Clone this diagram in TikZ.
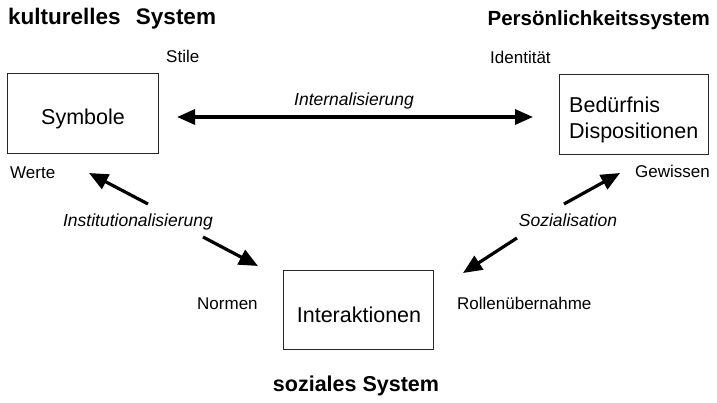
\documentclass[tikz,border=0pt]{standalone}
\usepackage{fontspec}
\setmainfont{Liberation Sans}
\usetikzlibrary{arrows.meta}
\begin{document}
\begin{tikzpicture}[x=1pt,y=-1pt,
  titlelbl/.style={font=\fontsize{20.5}{24}\selectfont\bfseries, inner sep=0pt},
  smalllbl/.style={font=\fontsize{17}{20}\selectfont, inner sep=0pt},
  arrowlbl/.style={font=\fontsize{17.5}{20}\selectfont\itshape, inner sep=0pt},
  boxtxt/.style={font=\fontsize{21.5}{26}\selectfont, inner sep=0pt},
  sysbox/.style={draw=black!85, line width=1pt, fill=none},
  bigarrow/.style={line width=3.2pt, -{Triangle[length=19pt,width=16pt]}},
  bigdarrow/.style={line width=3.2pt, {Triangle[length=18pt,width=15pt]}-{Triangle[length=18pt,width=15pt]}}]
\useasboundingbox (0,0) rectangle (717,403);
% boxes
\node[sysbox, minimum width=151pt, minimum height=80pt, anchor=north west] (symbox) at (7,73) {};
\node[sysbox, minimum width=149pt, minimum height=80pt, anchor=north west] (bedbox) at (559,74) {};
\node[sysbox, minimum width=150pt, minimum height=79pt, anchor=north west] (intbox) at (283,270) {};
% box texts
\node[boxtxt, anchor=base] (symtxt) at (83,125) {Symbole};
\node[boxtxt, anchor=base west] (bedtxt1) at (569,113) {Bedürfnis};
\node[boxtxt, anchor=base west] (bedtxt2) at (569,139) {Dispositionen};
\node[boxtxt, anchor=base] (inttxt) at (359,322) {Interaktionen};
% titles
\node[titlelbl, font=\fontsize{22.5}{26}\selectfont\bfseries, anchor=base west] (kult) at (8,25) {kulturelles\hspace{9pt} System};
\node[titlelbl, anchor=base east] (pers) at (710,26) {Persönlichkeitssystem};
\node[titlelbl, font=\fontsize{21.5}{25}\selectfont\bfseries, anchor=base] (soz) at (356,391) {soziales System};
% small labels
\node[smalllbl, anchor=base west] (stile) at (166,63) {Stile};
\node[smalllbl, anchor=base west] (ident) at (490,64) {Identität};
\node[smalllbl, anchor=base west] (werte) at (10,179) {Werte};
\node[smalllbl, anchor=base east] (gew) at (710,178) {Gewissen};
\node[smalllbl, anchor=base west] (normen) at (197,309) {Normen};
\node[smalllbl, anchor=base west] (rollen) at (457,309) {Rollenübernahme};
% arrow labels
\node[arrowlbl, anchor=base] (internal) at (354,106) {Internalisierung};
\node[arrowlbl, anchor=base] (instit) at (138,227) {Institutionalisierung};
\node[arrowlbl, anchor=base] (sozial) at (568,227) {Sozialisation};
% arrow end points
\coordinate (iL) at (177,117);
\coordinate (iR) at (533,117);
\coordinate (inA) at (148,204);
\coordinate (inAt) at (89,173);
\coordinate (inB) at (203,237);
\coordinate (inBt) at (258,266);
\coordinate (soA) at (564,204);
\coordinate (soAt) at (620,173);
\coordinate (soB) at (517,238);
\coordinate (soBt) at (463,273);
% arrows
\draw[bigdarrow] (iL) -- (iR);
\draw[bigarrow] (inA) -- (inAt);
\draw[bigarrow] (inB) -- (inBt);
\draw[bigarrow] (soA) -- (soAt);
\draw[bigarrow] (soB) -- (soBt);
\end{tikzpicture}
\end{document}
